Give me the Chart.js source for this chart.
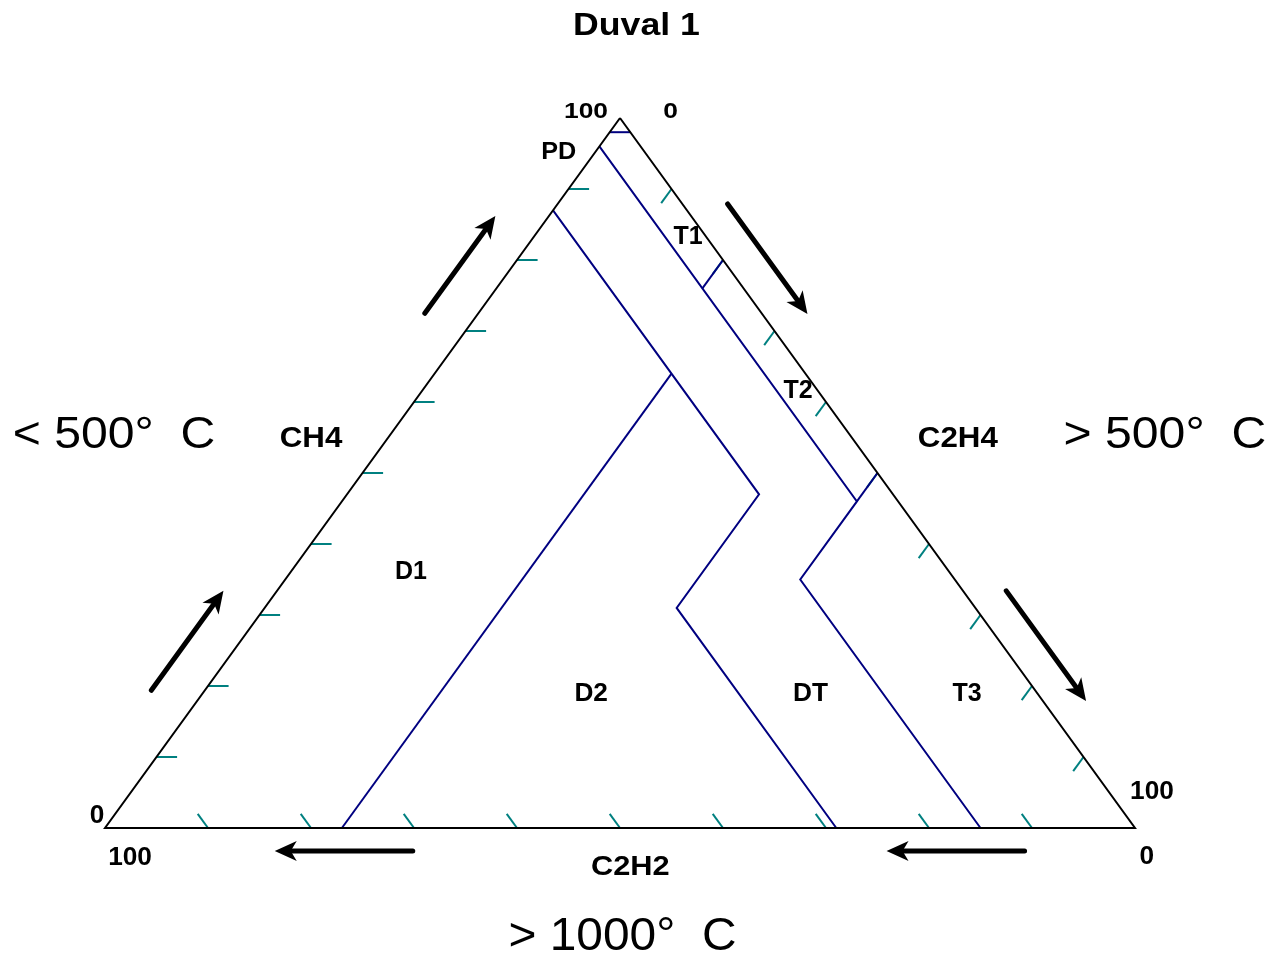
<!DOCTYPE html>
<html>
<head>
<meta charset="utf-8">
<title>Duval 1</title>
<script src="https://cdn.jsdelivr.net/npm/chart.js@4/dist/chart.umd.min.js"></script>
<style>
body { margin: 0; background: #fff; }
#box { width: 1272px; height: 960px; }
</style>
</head>
<body>
<div id="box"><canvas id="duvalGraph"></canvas></div>
<script>
// ternary points are [CH4, C2H4] in %, C2H2 = 100 - CH4 - C2H4
var triangle = [[100, 0], [0, 0], [0, 100], [100, 0]];
var zoneLines = [
	[[98, 0], [98, 2]],
	[[96, 0], [46, 50], [35, 50], [0, 85]],
	[[76, 20], [80, 20]],
	[[46, 50], [50, 50]],
	[[87, 0], [47, 40], [31, 40], [0, 71]],
	[[64, 23], [0, 23]]
];
var tickSteps = [10, 20, 30, 40, 50, 60, 70, 80, 90];
var tickLen = 2;
var zoneNames = ['PD', 'T1', 'T2', 'T3', 'D1', 'D2', 'DT'];
var axisNames = ['CH4', 'C2H4', 'C2H2'];
var axisEnds = ['0', '100'];
var tempNames = ['< 500°  C', '> 500°  C', '> 1000°  C'];
var titleText = 'Duval 1';
// arrows outside the edges, [tail, tip] as [CH4, C2H4]
var arrows = [
	[[72.5, -5.2], [86.2, -5.2]],
	[[19.4, -5.2], [33.4, -5.2]],
	[[87.9, 16.5], [72.4, 32.0]],
	[[33.4, 70.8], [17.9, 86.3]],
	[[-3.24, 31.5], [-3.24, 18.1]],
	[[-3.24, 90.9], [-3.24, 77.5]]
];

// where the triangle sits on the page
var triLeft = 105, triWidth = 1030, triBottom = 828, triHeight = 710;
var pxX = triWidth / 100, pxY = triHeight / 100;

function toXY(p) {
	return { x: p[1] + p[0] / 2, y: p[0] };
}

function lineSet(points, color, width) {
	return {
		data: points.map(toXY),
		borderColor: color,
		borderWidth: width,
		showLine: true,
		pointRadius: 0,
		fill: false,
		tension: 0
	};
}

var sets = [];
sets.push(lineSet(triangle, '#000000', 2));
zoneLines.forEach(function(l){
	sets.push(lineSet(l, '#000080', 2));
});
tickSteps.forEach(function(s){
	sets.push(lineSet([[s, 0], [s, tickLen]], '#008080', 2));
	sets.push(lineSet([[0, 100 - s], [tickLen, 100 - s - tickLen]], '#008080', 2));
	sets.push(lineSet([[100 - s, s], [100 - s - tickLen, s]], '#008080', 2));
});

var texts = [
	{t: titleText, x: 51.6, y: 113.3, size: 31, bold: true, sx: 1.15},
	{t: axisEnds[1], x: 46.7, y: 101.1, size: 22, bold: true, sx: 1.2},
	{t: axisEnds[0], x: 54.9, y: 101.1, size: 22, bold: true, sx: 1.2},
	{t: zoneNames[0], x: 44.06, y: 95.5, size: 24, bold: true, sx: 1.05},
	{t: zoneNames[1], x: 56.6, y: 83.45, size: 25, bold: true, sx: 1.0},
	{t: zoneNames[2], x: 67.3, y: 61.8, size: 25, bold: true, sx: 1.0},
	{t: zoneNames[3], x: 83.7, y: 19.2, size: 25, bold: true, sx: 1.0},
	{t: zoneNames[4], x: 29.7, y: 36.4, size: 25, bold: true, sx: 1.0},
	{t: zoneNames[5], x: 47.2, y: 19.1, size: 25, bold: true, sx: 1.05},
	{t: zoneNames[6], x: 68.5, y: 19.2, size: 25, bold: true, sx: 1.05},
	{t: axisNames[0], x: 20.0, y: 55.1, size: 29, bold: true, sx: 1.08},
	{t: axisNames[1], x: 82.8, y: 55.1, size: 29, bold: true, sx: 1.08},
	{t: axisNames[2], x: 51.0, y: -5.2, size: 28, bold: true, sx: 1.1},
	{t: tempNames[0], x: 0.87, y: 55.8, size: 45, bold: false, sx: 1.07},
	{t: tempNames[1], x: 102.9, y: 55.8, size: 45, bold: false, sx: 1.07},
	{t: tempNames[2], x: 50.24, y: -14.9, size: 45.6, bold: false, sx: 1.05},
	{t: axisEnds[0], x: -0.78, y: 2.0, size: 25, bold: true, sx: 1.05},
	{t: axisEnds[1], x: 2.43, y: -3.92, size: 25, bold: true, sx: 1.05},
	{t: axisEnds[1], x: 101.65, y: 5.28, size: 25, bold: true, sx: 1.05},
	{t: axisEnds[0], x: 101.14, y: -3.8, size: 25, bold: true, sx: 1.05}
];

var overlay = {
	id: 'overlay',
	afterDatasetsDraw: function(chart) {
		var c = chart.ctx, sx = chart.scales.x, sy = chart.scales.y;
		arrows.forEach(function(a){
			var p0 = toXY(a[0]), p1 = toXY(a[1]);
			var x0 = sx.getPixelForValue(p0.x), y0 = sy.getPixelForValue(p0.y);
			var x1 = sx.getPixelForValue(p1.x), y1 = sy.getPixelForValue(p1.y);
			var ang = Math.atan2(y1 - y0, x1 - x0);
			var hl = 22, hw = 10;
			c.save();
			c.strokeStyle = '#000';
			c.lineWidth = 5;
			c.lineCap = 'round';
			c.beginPath();
			c.moveTo(x0, y0);
			c.lineTo(x1 - Math.cos(ang) * hl * 0.6, y1 - Math.sin(ang) * hl * 0.6);
			c.stroke();
			c.translate(x1, y1);
			c.rotate(ang);
			c.fillStyle = '#000';
			c.beginPath();
			c.moveTo(0, 0);
			c.lineTo(-hl, -hw);
			c.lineTo(-hl + 6, 0);
			c.lineTo(-hl, hw);
			c.closePath();
			c.fill();
			c.restore();
		});
		texts.forEach(function(t){
			c.save();
			c.font = (t.bold ? 'bold ' : '') + t.size + 'px "Liberation Sans", Arial, sans-serif';
			c.fillStyle = '#000';
			c.translate(sx.getPixelForValue(t.x), sy.getPixelForValue(t.y));
			c.scale(t.sx, 1);
			c.textAlign = 'center';
			c.textBaseline = 'alphabetic';
			c.fillText(t.t, 0, t.size * 0.358);
			c.restore();
		});
	}
};

var ctx = document.getElementById('duvalGraph').getContext('2d');
var graph = new Chart(ctx, {
	type: 'scatter',
	data: { datasets: sets },
	options: {
		responsive: true,
		maintainAspectRatio: false,
		animation: false,
		events: [],
		layout: { padding: 0 },
		scales: {
			x: {
				type: 'linear',
				display: false,
				min: -triLeft / pxX,
				max: (1272 - triLeft) / pxX
			},
			y: {
				type: 'linear',
				display: false,
				min: (triBottom - 960) / pxY,
				max: triBottom / pxY
			}
		},
		plugins: {
			legend: { display: false },
			tooltip: { enabled: false }
		}
	},
	plugins: [overlay]
});
</script>
</body>
</html>
